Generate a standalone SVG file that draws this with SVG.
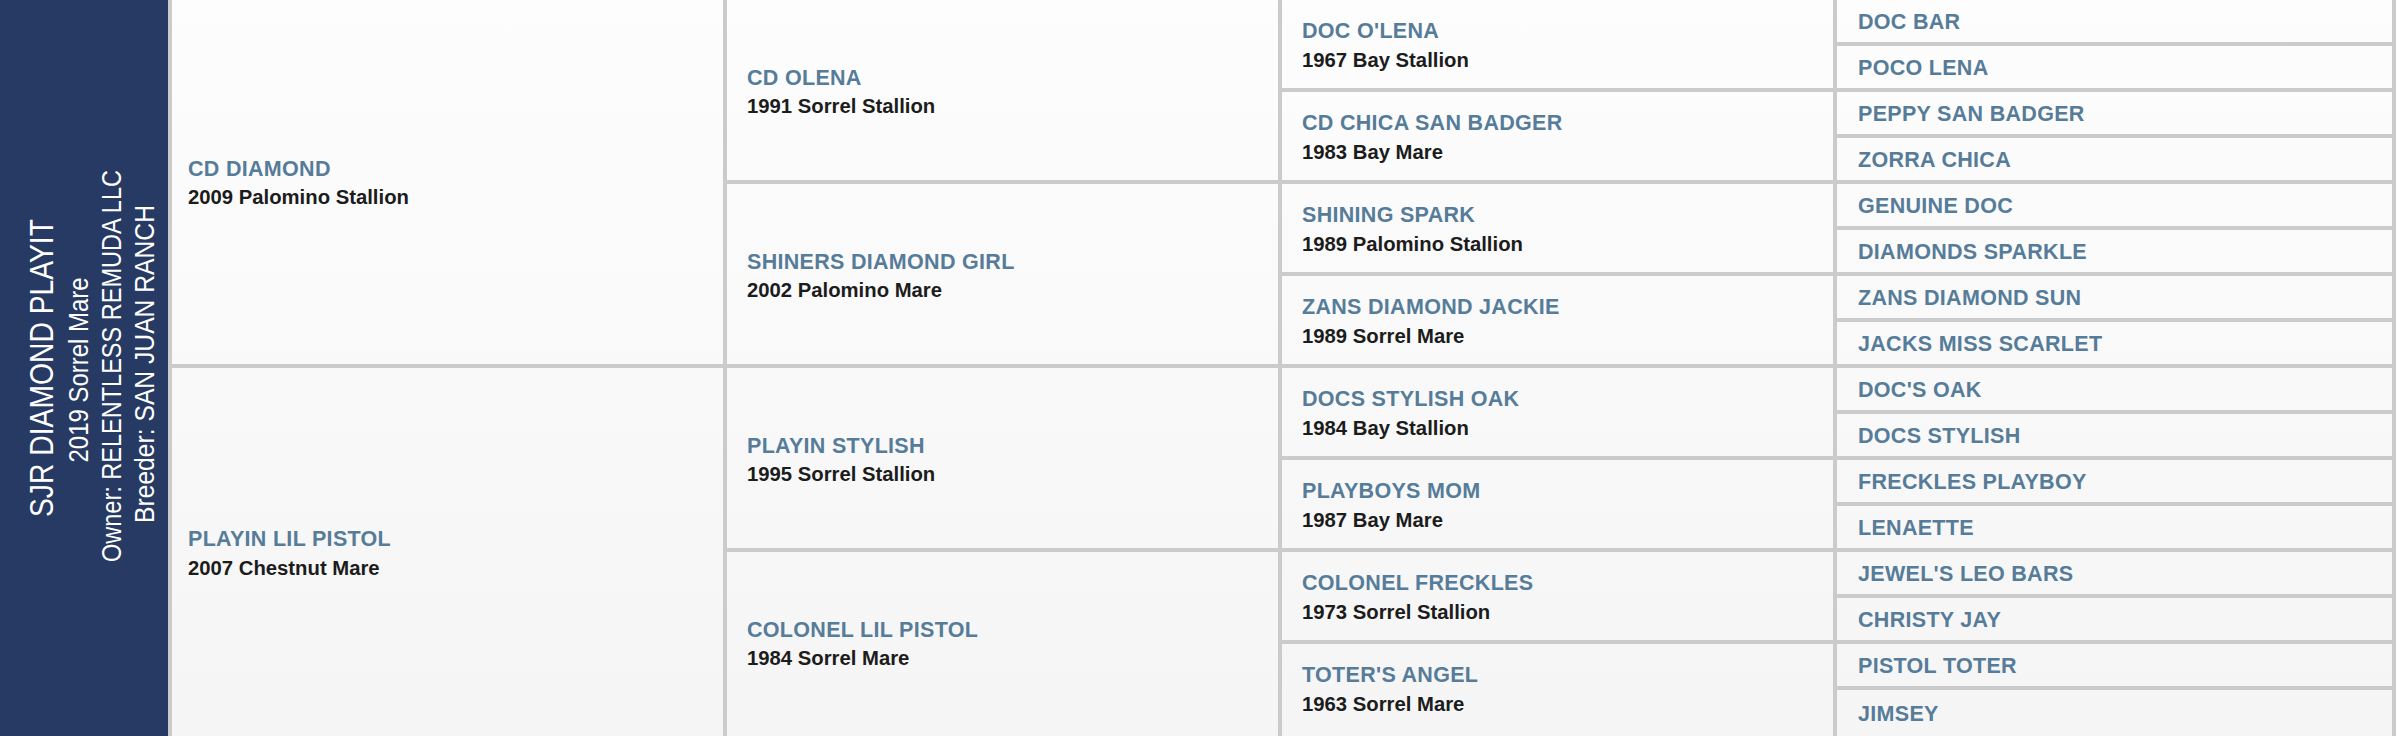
<svg xmlns="http://www.w3.org/2000/svg" width="2398" height="736" viewBox="0 0 2398 736">
<defs>
<linearGradient id="bg" x1="0" y1="0" x2="0" y2="1">
<stop offset="0" stop-color="#fdfdfd"/>
<stop offset="1" stop-color="#f5f5f5"/>
</linearGradient>
<style>
.nm{font-family:"Liberation Sans",Arial,sans-serif;font-weight:bold;font-size:21.5px;letter-spacing:0.3px;fill:#567c99}
.sb{font-family:"Liberation Sans",Arial,sans-serif;font-weight:bold;font-size:20.3px;fill:#1c1c1c}
.pt{font-family:"Liberation Sans",Arial,sans-serif;fill:#ffffff;text-anchor:middle}
.ln{fill:#cbcbcb}
</style>
</defs>
<rect x="0" y="0" width="2398" height="736" fill="#ffffff"/>
<rect x="172" y="0" width="2220" height="736" fill="url(#bg)"/>

<g id="subject">
<rect x="0" y="0" width="168" height="736" fill="#263a63"/>
<text class="pt" font-size="33" transform="translate(53,368) rotate(-90)" textLength="298" lengthAdjust="spacingAndGlyphs">SJR DIAMOND PLAYIT</text>
<text class="pt" font-size="27" transform="translate(88,370) rotate(-90)" textLength="185" lengthAdjust="spacingAndGlyphs">2019 Sorrel Mare</text>
<text class="pt" font-size="27" transform="translate(121,366) rotate(-90)" textLength="392" lengthAdjust="spacingAndGlyphs">Owner: RELENTLESS REMUDA LLC</text>
<text class="pt" font-size="27" transform="translate(154,364) rotate(-90)" textLength="318" lengthAdjust="spacingAndGlyphs">Breeder: SAN JUAN RANCH</text>
</g>

<g id="connectors">
<rect class="ln" x="168" y="0" width="4" height="736"/>
<rect class="ln" x="723" y="0" width="4" height="736"/>
<rect class="ln" x="1278" y="0" width="4" height="736"/>
<rect class="ln" x="1833" y="0" width="4" height="736"/>
<rect class="ln" x="2392" y="0" width="4" height="736"/>
<rect class="ln" x="172" y="364" width="551" height="4"/>
<rect class="ln" x="727" y="180" width="551" height="4"/>
<rect class="ln" x="727" y="364" width="551" height="4"/>
<rect class="ln" x="727" y="548" width="551" height="4"/>
<rect class="ln" x="1282" y="88" width="551" height="4"/>
<rect class="ln" x="1282" y="180" width="551" height="4"/>
<rect class="ln" x="1282" y="272" width="551" height="4"/>
<rect class="ln" x="1282" y="364" width="551" height="4"/>
<rect class="ln" x="1282" y="456" width="551" height="4"/>
<rect class="ln" x="1282" y="548" width="551" height="4"/>
<rect class="ln" x="1282" y="640" width="551" height="4"/>
<rect class="ln" x="1837" y="42" width="555" height="4"/>
<rect class="ln" x="1837" y="88" width="555" height="4"/>
<rect class="ln" x="1837" y="134" width="555" height="4"/>
<rect class="ln" x="1837" y="180" width="555" height="4"/>
<rect class="ln" x="1837" y="226" width="555" height="4"/>
<rect class="ln" x="1837" y="272" width="555" height="4"/>
<rect class="ln" x="1837" y="318" width="555" height="4"/>
<rect class="ln" x="1837" y="364" width="555" height="4"/>
<rect class="ln" x="1837" y="410" width="555" height="4"/>
<rect class="ln" x="1837" y="456" width="555" height="4"/>
<rect class="ln" x="1837" y="502" width="555" height="4"/>
<rect class="ln" x="1837" y="548" width="555" height="4"/>
<rect class="ln" x="1837" y="594" width="555" height="4"/>
<rect class="ln" x="1837" y="640" width="555" height="4"/>
<rect class="ln" x="1837" y="686" width="555" height="4"/>
</g>

<g id="sire"><text class="nm" x="188" y="176">CD DIAMOND</text><text class="sb" x="188" y="204">2009 Palomino Stallion</text></g>
<g id="dam"><text class="nm" x="188" y="546">PLAYIN LIL PISTOL</text><text class="sb" x="188" y="575">2007 Chestnut Mare</text></g>

<g id="ss"><text class="nm" x="747" y="85">CD OLENA</text><text class="sb" x="747" y="113">1991 Sorrel Stallion</text></g>
<g id="sd"><text class="nm" x="747" y="269">SHINERS DIAMOND GIRL</text><text class="sb" x="747" y="297">2002 Palomino Mare</text></g>
<g id="ds"><text class="nm" x="747" y="453">PLAYIN STYLISH</text><text class="sb" x="747" y="481">1995 Sorrel Stallion</text></g>
<g id="dd"><text class="nm" x="747" y="637">COLONEL LIL PISTOL</text><text class="sb" x="747" y="665">1984 Sorrel Mare</text></g>

<g id="sss"><text class="nm" x="1302" y="38">DOC O'LENA</text><text class="sb" x="1302" y="67">1967 Bay Stallion</text></g>
<g id="ssd"><text class="nm" x="1302" y="130">CD CHICA SAN BADGER</text><text class="sb" x="1302" y="159">1983 Bay Mare</text></g>
<g id="sds"><text class="nm" x="1302" y="222">SHINING SPARK</text><text class="sb" x="1302" y="251">1989 Palomino Stallion</text></g>
<g id="sdd"><text class="nm" x="1302" y="314">ZANS DIAMOND JACKIE</text><text class="sb" x="1302" y="343">1989 Sorrel Mare</text></g>
<g id="dss"><text class="nm" x="1302" y="406">DOCS STYLISH OAK</text><text class="sb" x="1302" y="435">1984 Bay Stallion</text></g>
<g id="dsd"><text class="nm" x="1302" y="498">PLAYBOYS MOM</text><text class="sb" x="1302" y="527">1987 Bay Mare</text></g>
<g id="dds"><text class="nm" x="1302" y="590">COLONEL FRECKLES</text><text class="sb" x="1302" y="619">1973 Sorrel Stallion</text></g>
<g id="ddd"><text class="nm" x="1302" y="682">TOTER'S ANGEL</text><text class="sb" x="1302" y="711">1963 Sorrel Mare</text></g>

<g id="g4-01"><text class="nm" x="1858" y="29">DOC BAR</text></g>
<g id="g4-02"><text class="nm" x="1858" y="75">POCO LENA</text></g>
<g id="g4-03"><text class="nm" x="1858" y="121">PEPPY SAN BADGER</text></g>
<g id="g4-04"><text class="nm" x="1858" y="167">ZORRA CHICA</text></g>
<g id="g4-05"><text class="nm" x="1858" y="213">GENUINE DOC</text></g>
<g id="g4-06"><text class="nm" x="1858" y="259">DIAMONDS SPARKLE</text></g>
<g id="g4-07"><text class="nm" x="1858" y="305">ZANS DIAMOND SUN</text></g>
<g id="g4-08"><text class="nm" x="1858" y="351">JACKS MISS SCARLET</text></g>
<g id="g4-09"><text class="nm" x="1858" y="397">DOC'S OAK</text></g>
<g id="g4-10"><text class="nm" x="1858" y="443">DOCS STYLISH</text></g>
<g id="g4-11"><text class="nm" x="1858" y="489">FRECKLES PLAYBOY</text></g>
<g id="g4-12"><text class="nm" x="1858" y="535">LENAETTE</text></g>
<g id="g4-13"><text class="nm" x="1858" y="581">JEWEL'S LEO BARS</text></g>
<g id="g4-14"><text class="nm" x="1858" y="627">CHRISTY JAY</text></g>
<g id="g4-15"><text class="nm" x="1858" y="673">PISTOL TOTER</text></g>
<g id="g4-16"><text class="nm" x="1858" y="721">JIMSEY</text></g>
</svg>
